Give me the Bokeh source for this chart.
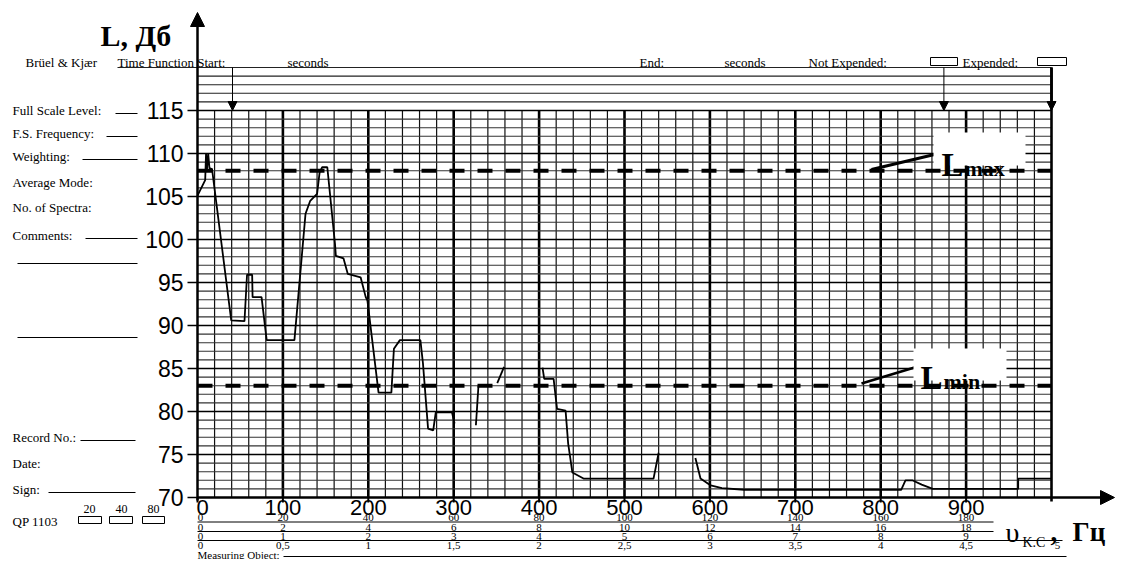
from bokeh.plotting import figure
from bokeh.models import Range1d, Arrow, NormalHead
from bokeh.core.properties import value
from bokeh.embed import file_html
from bokeh.resources import INLINE

# ---------------- data ----------------
level_ticks = [70, 75, 80, 85, 90, 95, 100, 105, 110, 115]
freq_ticks = [0, 100, 200, 300, 400, 500, 600, 700, 800, 900]
speed_row_a = ["0", "20", "40", "60", "80", "100", "120", "140", "160", "180"]
speed_row_b = ["0", "2", "4", "6", "8", "10", "12", "14", "16", "18"]
speed_row_c = ["0", "1", "2", "3", "4", "5", "6", "7", "8", "9"]
time_row = ["0", "0,5", "1", "1,5", "2", "2,5", "3", "3,5", "4", "4,5", "5"]
time_row_pos = [0, 100, 200, 300, 400, 500, 600, 700, 800, 900, 1000]
L_max = 108
L_min = 83
marker_freqs = [41, 874, 1000]

seg_a_f = [0, 9, 10, 11, 12.5, 14, 17, 39.5, 55, 58, 64, 64.5, 75, 81, 113.5, 126.5, 132, 140, 143,
           146, 152, 161, 162, 171, 176, 191, 197, 199, 212, 227, 230, 237, 261, 264, 270, 276, 279, 298, 301]
seg_a_L = [105.1, 106.9, 110, 108, 110, 108.3, 108.2, 90.6, 90.5, 95.9, 95.9, 93.3, 93.3, 88.3, 88.3, 103,
           104.5, 105.3, 107.8, 108.4, 108.4, 99.5, 98.1, 97.8, 96, 95.6, 93.3, 92.9, 82.2, 82.2, 87.3, 88.3,
           88.3, 85.6, 78, 77.8, 79.9, 79.9, 78.6]
seg_b_f = [326, 329]
seg_b_L = [78.4, 83]
seg_c_f = [351, 359]
seg_c_L = [83.3, 85.2]
seg_d_f = [404, 406, 417, 421, 431, 434, 439, 452, 534, 540]
seg_d_L = [85.1, 83.8, 83.8, 80.3, 80.1, 76.3, 72.9, 72.2, 72.2, 75.2]
seg_e_f = [583, 589, 601, 614, 640, 824, 829, 837, 848, 861, 961, 961, 1000]
seg_e_L = [74.6, 72.2, 71.4, 71.1, 70.9, 70.9, 72, 72, 71.5, 71, 71, 72.2, 72.2]

# ---------------- layout helpers (page pixels -> data) ----------------
def dx(px):
    return (px - 197) / 0.854

def dy(py):
    return 115 - (py - 110) / 8.6

W, H = 1116, 559
p = figure(width=W, height=H, x_range=Range1d(dx(0), dx(W)), y_range=Range1d(dy(H), dy(0)),
           output_backend="svg", toolbar_location=None, x_axis_location=None, y_axis_location=None,
           min_border=0, outline_line_color=None, background_fill_color="white",
           border_fill_color="white")
p.grid.visible = False

SERIF = value("Liberation Serif")
SANS = value("Liberation Sans")
FORM = "13px"


def txt(px, py, s, size=FORM, font=SERIF, align="left", baseline="middle", style="normal"):
    p.text(x=[dx(px)], y=[dy(py)], text=[s], text_font=font, text_font_size=value(size),
           text_align=value(align), text_baseline=value(baseline), text_font_style=value(style),
           text_color="black")


def hline(px0, px1, py, w=1.0, color="black"):
    p.segment(x0=[dx(px0)], y0=[dy(py)], x1=[dx(px1)], y1=[dy(py)], line_color=color, line_width=w)


def box(px0, px1, py0, py1):
    p.quad(left=[dx(px0)], right=[dx(px1)], top=[dy(py0)], bottom=[dy(py1)], fill_color=None,
           line_color="black", line_width=1)


# ---------------- grid ----------------
f_lo, f_hi = 0, 1000
L_lo, L_hi, L_head = 70, 115, 120
minor_v = [f for f in range(20, 1000, 20) if f % 100 != 0]
major_v = [f for f in range(100, 1000, 100)]
p.segment(x0=minor_v, y0=[L_lo] * len(minor_v), x1=minor_v, y1=[L_hi] * len(minor_v),
          line_color="#111111", line_width=1.2)
p.segment(x0=major_v, y0=[L_lo] * len(major_v), x1=major_v, y1=[L_hi] * len(major_v),
          line_color="black", line_width=2.6)
minor_h = [l for l in range(71, 116) if l % 5 != 0]
major_h = [l for l in range(75, 116, 5)]
p.segment(x0=[f_lo] * len(minor_h), y0=minor_h, x1=[f_hi] * len(minor_h), y1=minor_h,
          line_color="#333333", line_width=1.1)
p.segment(x0=[f_lo] * len(major_h), y0=major_h, x1=[f_hi] * len(major_h), y1=major_h,
          line_color="black", line_width=1.7)
head_h = [116, 117, 118, 119]
p.segment(x0=[f_lo] * 4, y0=head_h, x1=[f_hi] * 4, y1=head_h, line_color="#222222", line_width=1.1)
p.segment(x0=[dx(117)], y0=[L_head], x1=[f_hi], y1=[L_head], line_color="#222222", line_width=1.1)

# ---------------- curve ----------------
p.multi_line(xs=[seg_a_f, seg_b_f, seg_c_f, seg_d_f, seg_e_f],
             ys=[seg_a_L, seg_b_L, seg_c_L, seg_d_L, seg_e_L],
             line_color="black", line_width=1.8)

# ---------------- Lmax / Lmin ----------------
for lv in (L_max, L_min):
    p.line(x=[f_lo, f_hi], y=[lv, lv], line_color="black", line_width=4, line_dash="15 13")

p.segment(x0=[dx(871)], y0=[dy(169)], x1=[dx(934)], y1=[dy(154)], line_color="black", line_width=3)
p.segment(x0=[dx(861)], y0=[dy(383)], x1=[dx(914)], y1=[dy(367)], line_color="black", line_width=2.5)
p.quad(left=[dx(933), dx(913)], right=[dx(1025), dx(1006)], top=[dy(132), dy(348)],
       bottom=[dy(165), dy(380)], fill_color="white", line_color=None)
txt(941, 164, "L", size="33px", baseline="alphabetic", style="bold")
txt(964, 168, "max", size="22px", baseline="alphabetic", style="bold")
txt(920, 377, "L", size="33px", baseline="alphabetic", style="bold")
txt(943, 381, "min", size="22px", baseline="alphabetic", style="bold")

# ---------------- axes ----------------
p.segment(x0=[dx(187)] * len(level_ticks), y0=level_ticks, x1=[0] * len(level_ticks), y1=level_ticks,
          line_color="black", line_width=1.5)
p.text(x=[dx(183)] * len(level_ticks), y=level_ticks, text=[str(t) for t in level_ticks],
       text_font=SANS, text_font_size=value("23px"), text_align=value("right"),
       text_baseline=value("middle"), text_color="black")
p.segment(x0=freq_ticks, y0=[L_lo] * len(freq_ticks), x1=freq_ticks, y1=[dy(502)] * len(freq_ticks),
          line_color="black", line_width=2)
p.text(x=freq_ticks, y=[dy(507)] * len(freq_ticks), text=[str(t) for t in freq_ticks],
       text_font=SANS, text_font_size=value("22px"), text_align=value("center"),
       text_baseline=value("middle"), text_color="black", x_offset=[5] + [0] * 9)

# x axis line + arrow
p.add_layout(Arrow(x_start=0, y_start=L_lo, x_end=dx(W - 2), y_end=L_lo, line_width=2.5,
                   line_color="black",
                   end=NormalHead(size=14, fill_color="black", line_color="black")))
# y axis line + arrow
p.add_layout(Arrow(x_start=0, y_start=dy(500), x_end=0, y_end=dy(12), line_width=2.5,
                   line_color="black",
                   end=NormalHead(size=14, fill_color="black", line_color="black")))
# right frame
p.segment(x0=[f_hi], y0=[L_head], x1=[f_hi], y1=[dy(501)], line_color="black", line_width=2.6)
# start / end markers
for m in marker_freqs:
    w = 2.6 if m == f_hi else 1.0
    p.add_layout(Arrow(x_start=m, y_start=L_head, x_end=m, y_end=L_hi, line_width=w,
                       line_color="black",
                       end=NormalHead(size=9, fill_color="black", line_color="black")))

# ---------------- speed / time scale rows ----------------
rows = [(speed_row_a, 517), (speed_row_b, 526.5), (speed_row_c, 535.5)]
for labels, py in rows:
    p.text(x=freq_ticks, y=[dy(py)] * len(labels), text=labels, text_font=SERIF,
           text_font_size=value("11px"), text_align=value("center"), text_baseline=value("middle"),
           text_color="black", x_offset=[3] + [0] * (len(labels) - 1))
p.text(x=time_row_pos, y=[dy(544.5)] * len(time_row), text=time_row, text_font=SERIF,
       text_font_size=value("11px"), text_align=value("center"), text_baseline=value("middle"),
       text_color="black", x_offset=[3] + [0] * (len(time_row) - 2) + [6])
hline(197, 993, 521.5)
hline(197, 993, 531)
hline(197, 1062, 540)
txt(197, 554, "Measuring Object:", size="11px", baseline="alphabetic")
hline(283, 1066, 556)

# axis titles
txt(100, 35, "L, Дб", size="30px", baseline="alphabetic", style="bold")
txt(1005, 532, "υ", size="28px", baseline="alphabetic")
txt(1022, 542, "K.C", size="14px", baseline="alphabetic")
txt(1050, 531, ",", size="27px", baseline="alphabetic", style="bold")
txt(1072, 531, "Гц", size="27px", baseline="alphabetic", style="bold")

# ---------------- form texts ----------------
txt(25, 62, "Brüel & Kjær")
txt(117, 62, "Time Function Start:")
txt(287, 62, "seconds")
txt(639, 62, "End:")
txt(724, 62, "seconds")
txt(808, 62, "Not Expended:")
box(930, 957, 57, 65)
txt(962, 62, "Expended:")
box(1037, 1066, 57, 65)

txt(12, 110, "Full Scale Level:")
hline(115, 137, 113)
txt(12, 133, "F.S. Frequency:")
hline(106, 137, 136)
txt(12, 156, "Weighting:")
hline(82, 137, 159)
txt(12, 182, "Average Mode:")
txt(12, 207, "No. of Spectra:")
txt(12, 235, "Comments:")
hline(85, 137, 238)
hline(17, 137, 263)
hline(17, 137, 337)
txt(12, 437, "Record No.:")
hline(80, 135, 440)
txt(12, 463, "Date:")
txt(12, 489, "Sign:")
hline(48, 135, 492)
txt(89, 508, "20", size="12px", align="center")
txt(121, 508, "40", size="12px", align="center")
txt(153, 508, "80", size="12px", align="center")
txt(12, 521, "QP 1103")
box(78, 101, 516, 523)
box(109, 132, 516, 523)
box(142, 164, 516, 523)

open("out.html", "w").write(file_html(p, INLINE))
